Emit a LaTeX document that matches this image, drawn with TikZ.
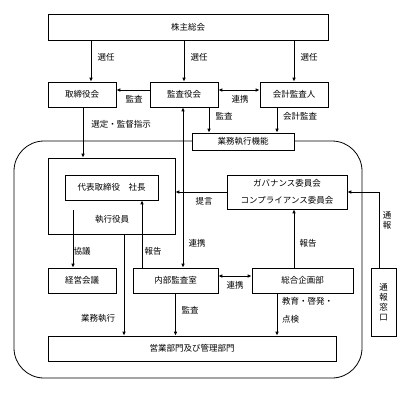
\documentclass[tikz,border=0pt]{standalone}
\usepackage{fontspec}
\setmainfont{Noto Sans CJK JP}
\usetikzlibrary{arrows.meta}
\usetikzlibrary{calc}
\tikzset{
  % A box of the organisation chart
  orgbox/.style={
    draw=black, fill=white, line width=0.7pt, inner sep=0pt, align=center,
    font=\fontsize{8.5}{10}\selectfont, minimum width=#1, minimum height=25pt},
  orgbox/.default=68pt,
  % Relationships
  flow/.style={-{Latex[length=4pt,width=3.6pt]}, line width=0.8pt},
  mutual/.style={{Latex[length=4pt,width=3.6pt]}-{Latex[length=4pt,width=3.6pt]}, line width=0.8pt},
  plain/.style={line width=0.8pt},
  lbl/.style={font=\fontsize{8.5}{10}\selectfont, inner sep=1pt},
  frame/.style={draw=black, line width=0.8pt, rounded corners=30pt},
}

\begin{document}
\begin{tikzpicture}[x=1pt, y=-1pt]

  \useasboundingbox (0,0) rectangle (415,392);

  % the executive area
  \draw[frame] (14,141) rectangle (362,378);

  \node[orgbox=280pt, minimum height=26pt] (gm) at (188,27) {株主総会};
  \node[orgbox] (board) at (82,94.5)  {取締役会};
  \node[orgbox] (aud)   at (184,94.5) {監査役会};
  \node[orgbox] (acc)   at (294,94.5) {会計監査人};
  \node[orgbox=102pt, minimum height=17pt] (exec) at (243,141.5) {業務執行機能};

  \node[orgbox=127pt, minimum height=76pt] (officers) at (111.5,196) {};
  \node[orgbox=93pt] (ceo) at (111.5,187.5) {代表取締役　社長};
  \node[lbl] (officerlbl) at (112,219) {執行役員};
  \node[orgbox=120pt, minimum height=34pt, font=\fontsize{8.5}{17}\selectfont] (gov) at (287,192)
       {ガバナンス委員会\\コンプライアンス委員会};

  \node[orgbox] (mtg)       at (82,280.5)  {経営会議};
  \node[orgbox=85pt] (ia)   at (175.5,280.5) {内部監査室};
  \node[orgbox=101pt] (plan) at (302.5,280.5) {総合企画部};
  \node[orgbox=288pt] (sales) at (192,348.5) {営業部門及び管理部門};
  \node[orgbox=25pt, minimum height=68pt] (hotline) at (383.5,302) {通\\報\\窓\\口};

  % election
  \draw[flow] ([xshift=9pt]board.north |- gm.south) -- ([xshift=9pt]board.north);
  \draw[flow] (gm.south -| aud.north) -- (aud.north);
  \draw[flow] (gm.south -| acc.north) -- (acc.north);
  \node[lbl] (sel1) at (106,57) {選任};
  \node[lbl] (sel2) at (199,57) {選任};
  \node[lbl] (sel3) at (309,57) {選任};

  \draw[flow] ([yshift=4.5pt]aud.west) -- ([yshift=4.5pt]aud.west -| board.east);
  \node[lbl] (audlbl1) at (134,99) {監査};
  \draw[mutual] ([yshift=4.5pt]aud.east) -- ([yshift=4.5pt]aud.east -| acc.west);
  \node[lbl] (coop1) at (240,99) {連携};

  \draw[flow] ([xshift=25pt]aud.south) -- ([xshift=25pt]aud.south |- exec.north);
  \node[lbl] (audlbl2) at (224,116) {監査};
  \draw[flow] ([xshift=-17pt]acc.south) -- ([xshift=-17pt]acc.south |- exec.north);
  \node[lbl] (acclbl) at (300,116) {会計監査};

  \draw[flow] ([xshift=1pt]board.south) -- ([xshift=1pt]board.south |- officers.north);
  \node[lbl] (direct) at (121,124) {選定・監督指示};

  \draw[mutual] ([xshift=-1pt]aud.south) -- ([xshift=-1pt]aud.south |- ia.north);
  \node[lbl] (coop2) at (197,243) {連携};

  \draw[flow] (gov.west) -- (gov.west -| officers.east);
  \node[lbl] (advice) at (204,201) {提言};
  \draw[flow] ([xshift=-4.5pt]hotline.north) |- (gov.east);
  \node[lbl, align=center, font=\fontsize{8.5}{10}\selectfont] (report0) at (387,220) {通\\報};

  \draw[flow] ([yshift=-10pt,xshift=-38.5pt]ceo.south) -- ([xshift=-9pt]mtg.north);
  \node[lbl] (consult) at (82,251) {協議};
  \draw[flow] ([xshift=-33.5pt]ia.north) -- ([xshift=-33.5pt]ia.north |- ceo.south);
  \node[lbl] (report1) at (153,251) {報告};

  \draw[flow] ([xshift=12.5pt]officers.south) -- ([xshift=12.5pt]officers.south |- sales.north);
  \node[lbl] (execlbl) at (98,318) {業務執行};
  \draw[flow] (ia.south) -- (ia.south |- sales.north);
  \node[lbl] (audlbl3) at (190,310) {監査};

  \draw[mutual] ([yshift=4.5pt]ia.east) -- ([yshift=4.5pt]ia.east -| plan.west);
  \node[lbl] (coop3) at (235,285) {連携};
  \draw[flow] ([xshift=-8.5pt]plan.north) -- ([xshift=-8.5pt]plan.north |- gov.south);
  \node[lbl] (report2) at (308,243) {報告};
  \draw[flow] ([xshift=-25.5pt]plan.south) -- ([xshift=-25.5pt]plan.south |- sales.north);
  \node[lbl, align=left, font=\fontsize{8.5}{18}\selectfont, anchor=north west] (edu) at (281,296)
       {教育・啓発・\\点検};

\end{tikzpicture}
\end{document}
